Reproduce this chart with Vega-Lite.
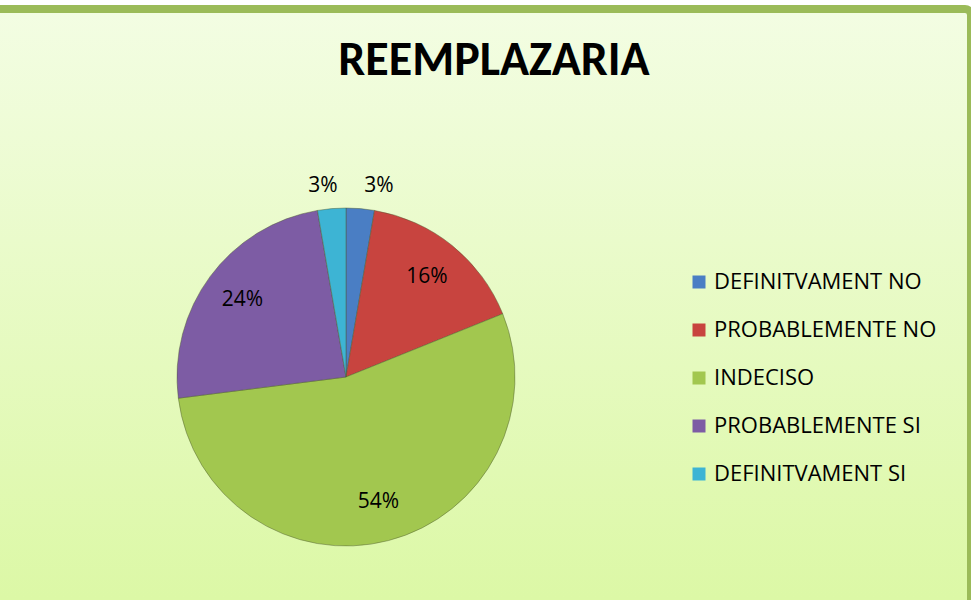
{
  "$schema": "https://vega.github.io/schema/vega-lite/v6.json",
  "width": 1250,
  "height": 736,
  "autosize": {"type": "none"},
  "padding": {"left": -279, "top": 9, "right": 0, "bottom": 0},
  "background": "white",
  "view": {
    "fill": {
      "gradient": "linear",
      "x1": 0, "y1": 0, "x2": 0, "y2": 1,
      "stops": [
        {"offset": 0, "color": "#F3FDE3"},
        {"offset": 0.8, "color": "#DCF8A6"},
        {"offset": 1, "color": "#D6F59A"}
      ]
    },
    "stroke": "#9BBB59",
    "strokeWidth": 8,
    "cornerRadius": 6
  },
  "title": {
    "text": "REEMPLAZARIA",
    "font": "Carlito, Lato",
    "fontSize": 48,
    "fontWeight": "bold",
    "color": "black",
    "anchor": "middle",
    "baseline": "alphabetic",
    "offset": 0,
    "dx": 148,
    "dy": 114
  },
  "data": {
    "values": [
      {"n": 1, "cat": "DEFINITVAMENT NO", "pct": 2.7, "label": "3%"},
      {"n": 2, "cat": "PROBABLEMENTE NO", "pct": 16.2, "label": "16%"},
      {"n": 3, "cat": "INDECISO", "pct": 54.1, "label": "54%"},
      {"n": 4, "cat": "PROBABLEMENTE SI", "pct": 24.3, "label": "24%"},
      {"n": 5, "cat": "DEFINITVAMENT SI", "pct": 2.7, "label": "3%"}
    ]
  },
  "encoding": {
    "theta": {"field": "pct", "type": "quantitative", "stack": true},
    "order": {"field": "n", "type": "quantitative", "sort": "ascending"}
  },
  "layer": [
    {
      "mark": {"type": "arc", "outerRadius": 169, "stroke": "#4d5c30", "strokeOpacity": 0.45, "strokeWidth": 1},
      "encoding": {
        "color": {
          "field": "cat",
          "type": "nominal",
          "scale": {
            "domain": ["DEFINITVAMENT NO", "PROBABLEMENTE NO", "INDECISO", "PROBABLEMENTE SI", "DEFINITVAMENT SI"],
            "range": ["#4A7EC4", "#C8443F", "#A2C74F", "#7D5CA4", "#3DB4D4"]
          },
          "legend": {
            "title": null,
            "orient": "none",
            "legendX": 967,
            "legendY": 262,
            "padding": 0,
            "symbolType": "square",
            "symbolSize": 169,
            "symbolStrokeWidth": 0,
            "labelFont": "Open Sans",
            "labelFontSize": 22,
            "labelColor": "black",
            "labelOffset": 4,
            "rowPadding": 26,
            "labelLimit": 400
          }
        }
      }
    },
    {
      "mark": {"type": "text", "radius": 129, "font": "Open Sans", "fontSize": 21, "baseline": "middle"},
      "encoding": {
        "detail": {"field": "cat", "type": "nominal"},
        "color": {"value": "black"},
        "text": {"condition": {"test": "datum.pct > 10", "field": "label"}, "value": ""}
      }
    },
    {
      "mark": {"type": "text", "radius": 192, "font": "Open Sans", "fontSize": 21, "baseline": "middle", "align": "left", "dx": 2},
      "encoding": {
        "detail": {"field": "cat", "type": "nominal"},
        "color": {"value": "black"},
        "text": {"condition": {"test": "datum.n == 1", "field": "label"}, "value": ""}
      }
    },
    {
      "mark": {"type": "text", "radius": 192, "font": "Open Sans", "fontSize": 21, "baseline": "middle", "align": "right", "dx": 8},
      "encoding": {
        "detail": {"field": "cat", "type": "nominal"},
        "color": {"value": "black"},
        "text": {"condition": {"test": "datum.n == 5", "field": "label"}, "value": ""}
      }
    }
  ]
}
